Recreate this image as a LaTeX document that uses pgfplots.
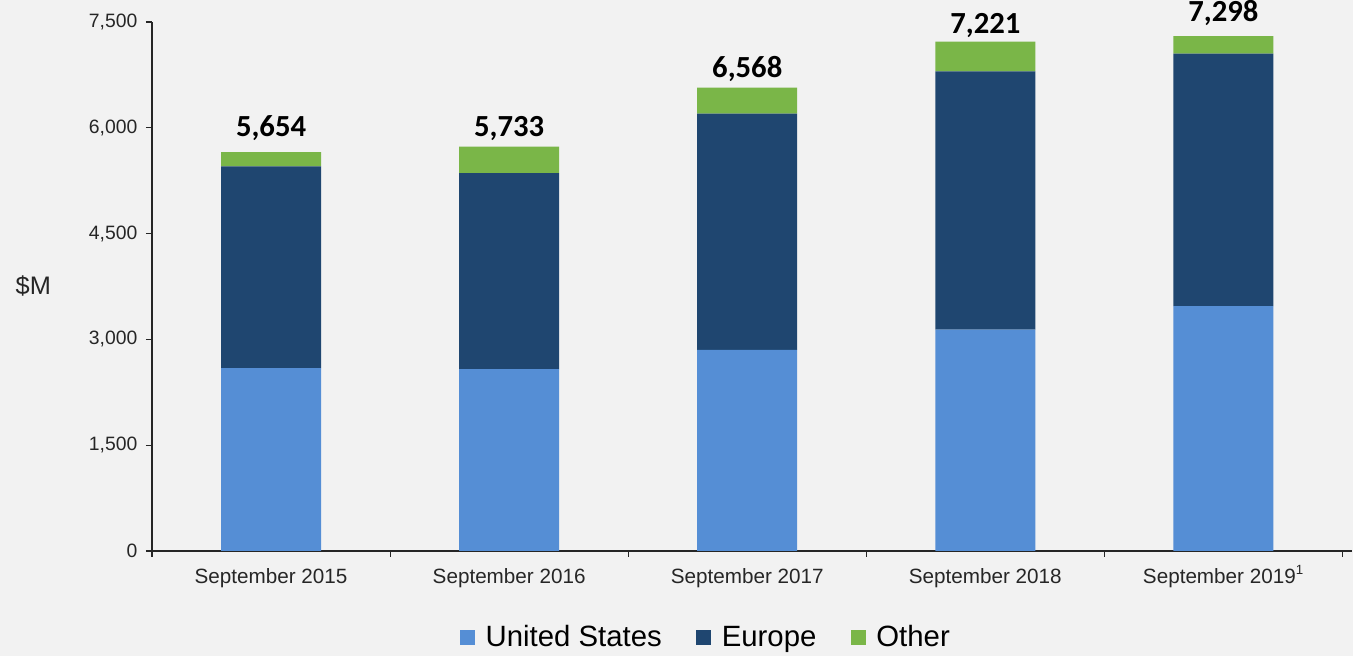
\documentclass[border=0pt]{standalone}
\usepackage{pgfplots}
\usepackage{pgfplotstable}
\pgfplotsset{compat=1.18}
\usepackage{fontspec}
\setmainfont{Liberation Sans}
\newfontfamily\carlito{Carlito}
\definecolor{bg}{HTML}{F2F2F2}
\definecolor{usblue}{HTML}{558ED5}
\definecolor{eunavy}{HTML}{1F4670}
\definecolor{othgreen}{HTML}{7AB648}

\pgfplotstableread{
x us eu other total
0 2592 2860 202 5,654
1 2580 2779 374 5,733
2 2850 3350 368 6,568
3 3138 3663 420 7,221
4 3470 3581 247 7,298
}\revenue

\begin{document}
\begin{tikzpicture}
\path[use as bounding box, fill=bg] (-114pt,-78.75pt) rectangle (900.75pt,413.25pt);
\begin{axis}[
  scale only axis,
  width=900pt, height=396.75pt,
  xmin=-0.5, xmax=4.54,
  ymin=0, ymax=7500,
  clip=false,
  axis x line=bottom, axis y line=left,
  axis line style={-, black!85, line width=0.8pt},
  ybar stacked, bar width=75pt,
  ytick={0,1500,...,7500},
  scaled y ticks=false,
  /pgf/number format/assume math mode=true,
  /pgf/number format/1000 sep={,},
  xtick={0,...,4},
  xticklabels={September 2015,September 2016,September 2017,September 2018,September 2019\textsuperscript{\fontsize{10}{10}\selectfont\raisebox{1.5pt}{1}}},
  minor xtick={-0.5,0.5,...,4.5},
  major x tick style={draw=none},
  tick align=outside,
  major tick length=4.5pt, minor tick length=4.5pt,
  tick style={black!85, line width=0.8pt},
  ticklabel style={text=black!85},
  yticklabel style={font=\fontsize{14.5}{16}\selectfont, xshift=-3pt},
  xticklabel style={font=\fontsize{15.5}{18}\selectfont, text height=13pt, text depth=3pt, yshift=-3.5pt},
  legend style={at={(0.462,-0.163)}, anchor=center, draw=none, fill=none,
    font=\fontsize{22}{26}\selectfont, legend columns=3,
    /tikz/every odd column/.append style={column sep=6pt},
    /tikz/every even column/.append style={column sep=24pt}},
  legend image code/.code={\fill[#1] (0pt,-5.5pt) rectangle (11pt,5.5pt);},
]
\addplot[fill=usblue, draw=none] table[x=x, y=us] {\revenue};
\addplot[fill=eunavy, draw=none] table[x=x, y=eu] {\revenue};
\addplot[fill=othgreen, draw=none,
  point meta=explicit symbolic,
  nodes near coords,
  every node near coord/.append style={anchor=base, yshift=17.25pt,
    font=\carlito\bfseries\fontsize{23}{27}\selectfont, text=black}]
  table[x=x, y=other, meta=total] {\revenue};
\legend{United States, Europe, Other}
\node at (rel axis cs:0,0.5) [xshift=-89pt, font=\fontsize{19}{22}\selectfont, text=black!85] {\$M};
\end{axis}
\end{tikzpicture}
\end{document}
